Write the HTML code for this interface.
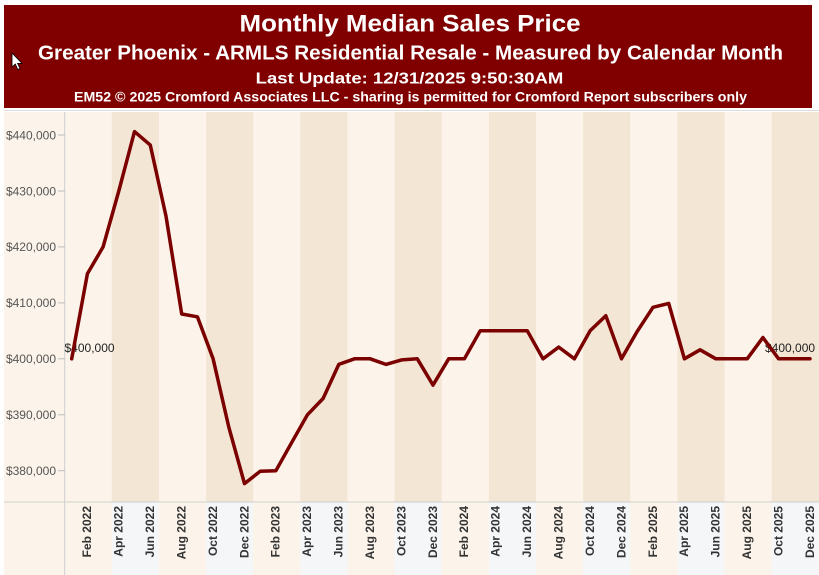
<!DOCTYPE html>
<html><head><meta charset="utf-8"><style>
html,body{margin:0;padding:0;background:#fff;}
svg{display:block;}
</style></head><body>
<svg width="819" height="575" viewBox="0 0 819 575" xmlns="http://www.w3.org/2000/svg">
<rect x="0" y="0" width="819" height="575" fill="#ffffff"/>
<!-- header -->
<rect x="4" y="5" width="808" height="103" fill="#800000"/>
<g font-family="Liberation Sans, Arial, sans-serif" font-weight="bold" fill="#ffffff">
<text x="239.5" y="31.7" font-size="24" textLength="341" lengthAdjust="spacingAndGlyphs">Monthly Median Sales Price</text>
<text x="38" y="59.3" font-size="20" textLength="745" lengthAdjust="spacingAndGlyphs">Greater Phoenix - ARMLS Residential Resale - Measured by Calendar Month</text>
<text x="255.7" y="83.3" font-size="16" textLength="307.6" lengthAdjust="spacingAndGlyphs">Last Update: 12/31/2025 9:50:30AM</text>
<text x="74" y="101.5" font-size="13.5" textLength="673" lengthAdjust="spacingAndGlyphs">EM52 © 2025 Cromford Associates LLC - sharing is permitted for Cromford Report subscribers only</text>
</g>
<polygon points="12,53 12,67 15.3,64 17.8,69.5 20,68.5 17.6,63.4 22,63.4" fill="#ffffff" stroke="#000" stroke-width="0.8"/>
<!-- chart background -->
<line x1="4" y1="110.5" x2="819" y2="110.5" stroke="#dcdcdc" stroke-width="1"/>
<rect x="4" y="112" width="815" height="463" fill="#fcf4ea"/>
<!-- dark quarter bands (plot) -->
<g fill="#f3e6d5">
<rect x="111.8" y="112" width="47.2" height="390"/>
<rect x="206.1" y="112" width="47.1" height="390"/>
<rect x="300.4" y="112" width="47.1" height="390"/>
<rect x="394.6" y="112" width="47.1" height="390"/>
<rect x="488.9" y="112" width="47.1" height="390"/>
<rect x="583.1" y="112" width="47.2" height="390"/>
<rect x="677.4" y="112" width="47.1" height="390"/>
<rect x="771.6" y="112" width="47.4" height="390"/>
</g>
<!-- axis area gray bands -->
<g fill="#f5f6f8">
<rect x="111.8" y="502" width="47.2" height="73"/>
<rect x="206.1" y="502" width="47.1" height="73"/>
<rect x="300.4" y="502" width="47.1" height="73"/>
<rect x="394.6" y="502" width="47.1" height="73"/>
<rect x="488.9" y="502" width="47.1" height="73"/>
<rect x="583.1" y="502" width="47.2" height="73"/>
<rect x="677.4" y="502" width="47.1" height="73"/>
<rect x="771.6" y="502" width="47.4" height="73"/>
</g>
<!-- axes -->
<line x1="64.7" y1="112" x2="64.7" y2="575" stroke="#cfcfcf" stroke-width="1"/>
<line x1="4" y1="502" x2="819" y2="502" stroke="#cfcfcf" stroke-width="1"/>
<!-- y ticks -->
<g stroke="#bdbdbd" stroke-width="1">
<line x1="58" y1="135" x2="64.7" y2="135"/>
<line x1="58" y1="191" x2="64.7" y2="191"/>
<line x1="58" y1="246.9" x2="64.7" y2="246.9"/>
<line x1="58" y1="302.9" x2="64.7" y2="302.9"/>
<line x1="58" y1="358.8" x2="64.7" y2="358.8"/>
<line x1="58" y1="414.8" x2="64.7" y2="414.8"/>
<line x1="58" y1="470.7" x2="64.7" y2="470.7"/>
</g>
<g font-family="Liberation Sans, Arial, sans-serif" font-size="12" fill="#555555" text-anchor="end">
<text x="56" y="139.3">$440,000</text>
<text x="56" y="195.3">$430,000</text>
<text x="56" y="251.2">$420,000</text>
<text x="56" y="307.2">$410,000</text>
<text x="56" y="363.1">$400,000</text>
<text x="56" y="419.1">$390,000</text>
<text x="56" y="475">$380,000</text>
</g>
<!-- x labels -->
<g font-family="Liberation Sans, Arial, sans-serif" font-size="12" font-weight="bold" fill="#333333" text-anchor="end">
<text transform="translate(91.2,506) rotate(-90)">Feb 2022</text>
<text transform="translate(122.6,506) rotate(-90)">Apr 2022</text>
<text transform="translate(154.1,506) rotate(-90)">Jun 2022</text>
<text transform="translate(185.5,506) rotate(-90)">Aug 2022</text>
<text transform="translate(216.9,506) rotate(-90)">Oct 2022</text>
<text transform="translate(248.3,506) rotate(-90)">Dec 2022</text>
<text transform="translate(279.7,506) rotate(-90)">Feb 2023</text>
<text transform="translate(311.2,506) rotate(-90)">Apr 2023</text>
<text transform="translate(342.6,506) rotate(-90)">Jun 2023</text>
<text transform="translate(374,506) rotate(-90)">Aug 2023</text>
<text transform="translate(405.4,506) rotate(-90)">Oct 2023</text>
<text transform="translate(436.8,506) rotate(-90)">Dec 2023</text>
<text transform="translate(468.2,506) rotate(-90)">Feb 2024</text>
<text transform="translate(499.7,506) rotate(-90)">Apr 2024</text>
<text transform="translate(531.1,506) rotate(-90)">Jun 2024</text>
<text transform="translate(562.5,506) rotate(-90)">Aug 2024</text>
<text transform="translate(593.9,506) rotate(-90)">Oct 2024</text>
<text transform="translate(625.3,506) rotate(-90)">Dec 2024</text>
<text transform="translate(656.8,506) rotate(-90)">Feb 2025</text>
<text transform="translate(688.2,506) rotate(-90)">Apr 2025</text>
<text transform="translate(719.6,506) rotate(-90)">Jun 2025</text>
<text transform="translate(751,506) rotate(-90)">Aug 2025</text>
<text transform="translate(782.4,506) rotate(-90)">Oct 2025</text>
<text transform="translate(813.8,506) rotate(-90)">Dec 2025</text>
</g>
<!-- data labels -->
<g font-family="Liberation Sans, Arial, sans-serif" font-size="12" fill="#222222">
<text x="64.5" y="352">$400,000</text>
<text x="765" y="352">$400,000</text>
</g>
<!-- series -->
<polyline fill="none" stroke="#7b0000" stroke-width="3.5" stroke-linejoin="round" stroke-linecap="round" points="
71.7,358.8 87.4,273.8 103.1,246.9 118.8,191 134.5,131.6 150.3,145.1 166,216.1 181.7,314 197.4,316.8 213.1,358.8 228.8,427.1 244.5,483.6
260.2,471.3 275.9,470.7 291.6,442.7 307.4,414.8 323.1,398.5 338.8,364.4 354.5,358.8 370.2,358.8 385.9,364.4 401.6,359.9 417.3,358.8 433,385.1
448.7,358.8 464.4,358.8 480.2,330.8 495.9,330.8 511.6,330.8 527.3,330.8 543,358.8 558.7,347.1 574.4,358.8 590.1,330.8 605.8,315.7 621.5,358.8
637.2,331.4 653,307.3 668.7,303.4 684.4,358.8 700.1,349.8 715.8,358.8 731.5,358.8 747.2,358.8 762.9,337.5 778.6,358.8 794.3,358.8 810,358.8"/>
</svg>
</body></html>
